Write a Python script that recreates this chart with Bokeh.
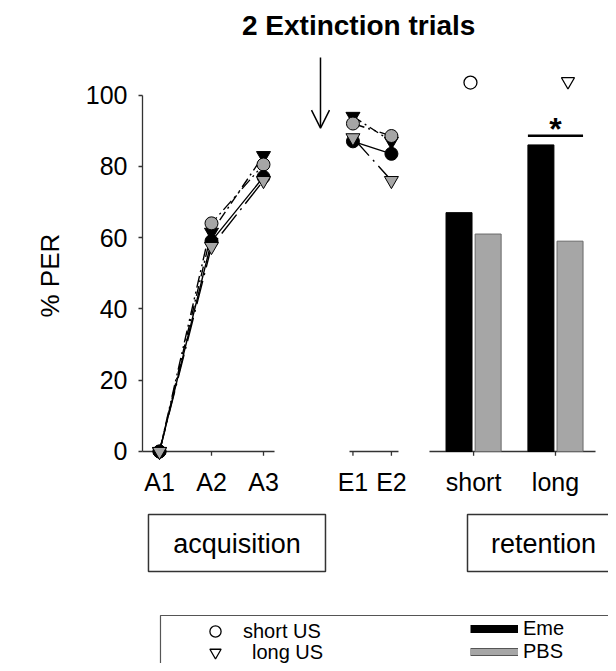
from bokeh.plotting import figure
from bokeh.models import Range1d, FixedTicker, Legend, LegendItem, Arrow, OpenHead, Title
from bokeh.core.properties import value
from bokeh.embed import file_html
from bokeh.resources import INLINE

# ---------------- data (% PER) ----------------
acq_labels = ["A1", "A2", "A3"]
ext_labels = ["E1", "E2"]
ret_labels = ["short", "long"]

acq_short_eme = [0, 59, 77]
acq_short_pbs = [0, 64, 80.5]
acq_long_eme = [0, 61.5, 83]
acq_long_pbs = [0, 57.5, 76]

ext_short_eme = [87, 83.5]
ext_short_pbs = [92, 88.5]
ext_long_eme = [94, 87]
ext_long_pbs = [88, 76]

ret_eme = [67, 86]
ret_pbs = [61, 59]

y_ticks = [0, 20, 40, 60, 80, 100]

# ---------------- layout constants ----------------
acq_x = [1, 2, 3]
ext_x = [4.72, 5.46]
ret_x = [7.04, 8.615]
bar_off = 0.28
bar_w = 0.5
FONT = "Liberation Sans"
GRAY = "#a6a6a6"

p = figure(width=608, height=663,
           x_range=Range1d(0.6731, 9.6346), y_range=Range1d(-59.47, 126.51),
           output_backend="svg", toolbar_location=None, tools="",
           x_axis_location=None, min_border=0, min_border_left=142)
p.outline_line_color = None
p.xgrid.visible = False
p.ygrid.visible = False
p.background_fill_color = "white"

# y axis
ax = p.yaxis[0]
ax.ticker = FixedTicker(ticks=y_ticks)
ax.bounds = (0, 100)
ax.minor_tick_line_color = None
ax.major_tick_out = 4
ax.major_tick_in = 0
ax.major_label_standoff = 11
ax.major_label_text_font = FONT
ax.major_label_text_font_size = "25px"
ax.major_label_text_color = "black"
ax.axis_line_color = "#333333"
ax.axis_line_width = 1.3
ax.major_tick_line_color = "#333333"
ax.major_tick_line_width = 1.3

# y-axis title, placed along the 0-100 span of the axis
p.add_layout(Title(text="% PER", align="left", offset=346, standoff=36,
                   text_font=FONT, text_font_size="26px", text_font_style="normal",
                   text_color="black"), "left")

# hand-drawn x axes (three separate segments)
tick_len = 1.2
p.segment(x0=[0.577, 4.654, 6.192], x1=[3.212, 5.596, 9.385], y0=[0, 0, 0], y1=[0, 0, 0],
          line_color="#333333", line_width=1.3)
all_tx = acq_x + ext_x + ret_x
p.segment(x0=all_tx, x1=all_tx, y0=[0] * len(all_tx), y1=[-tick_len] * len(all_tx),
          line_color="#333333", line_width=1.3)
p.text(x=all_tx, y=[-8.5] * len(all_tx), text=acq_labels + ext_labels + ret_labels,
       text_font=value(FONT), text_font_size=value("25px"), text_align="center",
       text_baseline="alphabetic", text_color="black")

# bars (retention)
eme_bars = p.vbar(x=[r - bar_off for r in ret_x], top=ret_eme, bottom=0, width=bar_w,
                  fill_color="black", line_color="black", line_width=1)
pbs_bars = p.vbar(x=[r + bar_off for r in ret_x], top=ret_pbs, bottom=0, width=bar_w,
                  fill_color=GRAY, line_color="#6a6a6a", line_width=1)

# lines + markers
series = [
    (acq_long_eme, ext_long_eme, "inverted_triangle", "black", "10 4 2 4"),
    (acq_short_pbs, ext_short_pbs, "circle", GRAY, "12 4 2 4 2 4"),
    (acq_short_eme, ext_short_eme, "circle", "black", "solid"),
    (acq_long_pbs, ext_long_pbs, "inverted_triangle", GRAY, "24 6 2 6"),
]
for acq, ext, mk, col, dash in series:
    p.line(x=acq_x, y=acq, line_color="black", line_width=1.4, line_dash=dash)
    p.line(x=ext_x, y=ext, line_color="black", line_width=1.4, line_dash=dash)
for acq, ext, mk, col, dash in series:
    size = 13 if mk == "circle" else 14
    p.scatter(x=acq_x + ext_x, y=acq + ext, marker=mk, size=size,
              fill_color=col, line_color="black", line_width=1)

# group symbols above bars
grp_circle = p.scatter(x=[ret_x[0] - 0.06], y=[103.5], marker="circle", size=13,
                       fill_color=None, line_color="black", line_width=1.3)
grp_tri = p.scatter(x=[ret_x[1] + 0.24], y=[103.8], marker="inverted_triangle", size=13,
                    fill_color=None, line_color="black", line_width=1.3)

# significance
p.segment(x0=[ret_x[1] - bar_off - bar_w / 2], x1=[ret_x[1] + bar_off + bar_w / 2],
          y0=[88.6], y1=[88.6], line_color="black", line_width=2.5)
p.text(x=[ret_x[1]], y=[90.6], text=["*"], text_font=value(FONT), text_font_size=value("32px"),
       text_font_style="bold", text_align="center", text_baseline="alphabetic", text_color="black")

# title + arrow
p.text(x=[4.83], y=[119.6], text=["2 Extinction trials"], text_font=value(FONT),
       text_font_size=value("28px"), text_font_style="bold", text_align="center",
       text_baseline="alphabetic", text_color="black")
p.add_layout(Arrow(x_start=4.096, y_start=110.5, x_end=4.096, y_end=90.7,
                   line_width=1.5, line_color="black",
                   end=OpenHead(size=18, line_width=1.5, line_color="black")))

# phase boxes
p.quad(left=[0.788, 6.923], right=[4.192, 9.9], top=[-17.67, -17.67], bottom=[-33.66, -33.66],
       fill_color=None, line_color="#333333", line_width=1.5)
p.text(x=[2.49, 8.385], y=[-26.0, -26.0], text=["acquisition", "retention"],
       text_font=value(FONT), text_font_size=value("27px"), text_align="center",
       text_baseline="alphabetic", text_color="black")

# legend frame
p.quad(left=[1.019], right=[9.9], top=[-46.0], bottom=[-62.0],
       fill_color=None, line_color="#555555", line_width=1.2)

common = dict(orientation="vertical", padding=0, margin=0, border_line_color=None,
              background_fill_alpha=0, label_text_font=FONT, label_text_font_size="20px",
              label_text_color="black")

leg_short = Legend(items=[LegendItem(label="short US", renderers=[grp_circle])],
                   location=(49, 18), glyph_width=48, glyph_height=28, label_standoff=4,
                   label_height=21, **common)
leg_long = Legend(items=[LegendItem(label="long US", renderers=[grp_tri])],
                  location=(49, -3), glyph_width=48, glyph_height=28, label_standoff=13,
                  label_height=21, **common)

# legend swatches for the bar colours (renderers hidden in the plot area)
eme_icon = p.line(x=ret_x, y=ret_eme, line_color="black", line_width=8, visible=False)
pbs_icon_o = p.line(x=ret_x, y=ret_pbs, line_color="#555555", line_width=8, visible=False)
pbs_icon_i = p.line(x=ret_x, y=ret_pbs, line_color=GRAY, line_width=6, visible=False)
leg_bar = Legend(items=[LegendItem(label="Eme", renderers=[eme_icon]),
                        LegendItem(label="PBS", renderers=[pbs_icon_o, pbs_icon_i])],
                 location=(328, 0.5), glyph_width=48, glyph_height=21, label_standoff=5,
                 spacing=0, label_height=21, **common)
p.add_layout(leg_short)
p.add_layout(leg_long)
p.add_layout(leg_bar)

open("out.html", "w").write(file_html(p, INLINE))
